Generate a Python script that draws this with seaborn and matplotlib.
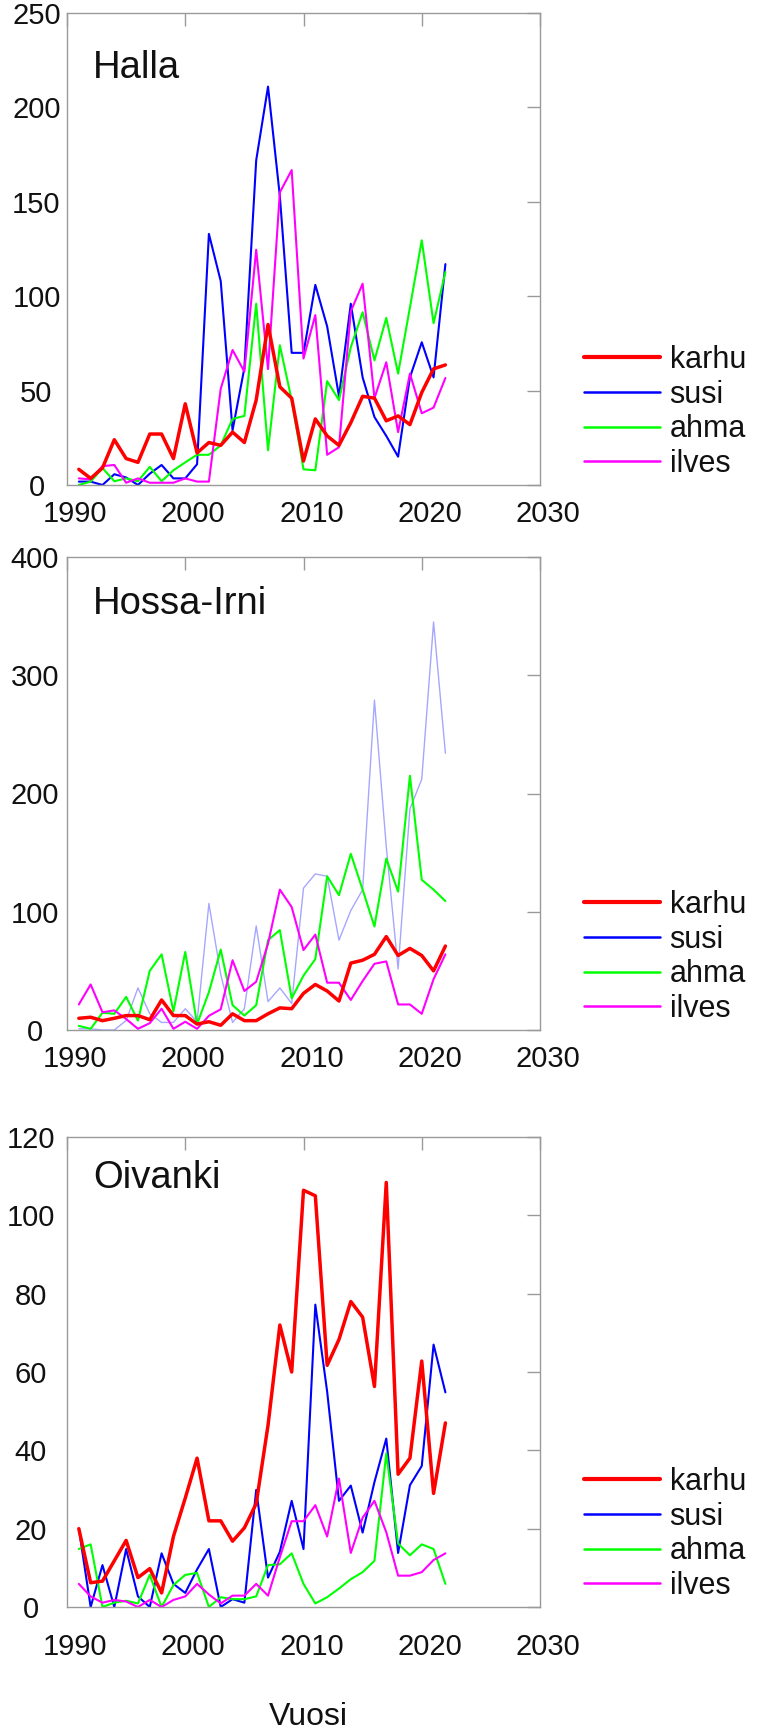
import numpy as np
import pandas as pd
import matplotlib
matplotlib.use("Agg")
import matplotlib.pyplot as plt
import matplotlib.transforms as mtransforms
from matplotlib.lines import Line2D
import seaborn as sns

years = list(range(1991, 2023))
species = ["karhu", "susi", "ahma", "ilves"]
regions = ["Halla", "Hossa-Irni", "Oivanki"]

halla_karhu = [8.3, 3.5, 9, 24, 14, 12, 27, 27, 14, 43, 17, 22.5, 21, 28, 22.5, 45, 85, 52, 46, 12.7,
               35, 26, 21, 33, 47, 46, 34, 36.6, 32, 49, 61.5, 63.6]
halla_susi = [1.8, 1.8, 0, 5.7, 4, 0, 6, 10.6, 3.5, 3.5, 11, 133, 108, 29, 62, 172, 211, 153, 70, 70,
              106, 84, 47, 96, 57, 36, 26, 15, 57, 75.6, 57, 117]
halla_ahma = [0, 1.8, 9, 2, 3.5, 2, 9.6, 2, 7.8, 12, 16, 16, 21, 35, 36.6, 96, 18.4, 74, 45, 8.3,
              7.8, 55, 45, 73, 91.5, 66, 88.5, 59, 94, 129.6, 85.7, 112.8]
halla_ilves = [3.5, 3, 10, 10.6, 1.2, 3.5, 1.2, 1.2, 1.2, 3.5, 1.8, 1.8, 51, 71.5, 60, 124.6, 61.4, 155, 166.8, 67,
               90, 16, 20, 92, 106.6, 46, 65, 28, 59, 38, 41, 56.7]

hossa_karhu = [9.9, 10.8, 7.9, 9.9, 12.2, 12.2, 8.7, 25.4, 12.2, 12.2, 5, 7, 4, 13.7, 7.9, 7.9, 13.7, 18.7, 18, 31,
               38.5, 33, 24.5, 56.6, 59, 64, 79, 63, 69, 63, 50, 71]
hossa_susi = [1, 1, 0, 0, 8, 35.6, 13.7, 6.4, 6.4, 18, 7, 107, 47, 6.4, 18, 88, 24, 35.6, 22.4, 120,
              132, 130, 76, 101, 118.7, 279, 155, 51.6, 187, 212, 345, 234]
hossa_ahma = [3.5, 1, 14.6, 13.7, 28, 8, 50, 64, 15.7, 66, 5, 32, 68, 21, 12.2, 21, 76, 84.5, 26.8, 46,
              60, 130, 114, 149, 118.7, 87.5, 145, 117, 215, 127, 118.7, 109]
hossa_ilves = [21.6, 38.5, 15, 16.6, 9.3, 1, 5.8, 18, 1, 7, 1, 12, 17.5, 59, 33, 40.8, 73, 118.7, 104, 67.6,
               80.7, 40, 40, 25.4, 41.4, 56, 58, 21.6, 21.6, 13.7, 43, 64]

oiv_karhu = [20, 6.2, 6.6, 11.8, 17, 7.5, 9.8, 3.6, 18, 27.8, 38, 22, 22, 16.8, 20.2, 26.4, 46.4, 72, 60, 106.4,
             105, 61.7, 68.3, 78, 74, 56.3, 108.4, 33.9, 38, 62.8, 29, 47]
oiv_susi = [20, 0, 10.7, 0, 14.8, 2.7, 0, 13.7, 5.9, 3.6, 9.6, 14.8, 0, 2, 1.1, 29.9, 7.5, 14.1, 27.1, 14.8,
            77.2, 55, 27.1, 31, 19, 31.9, 43, 13.8, 31.1, 36, 67, 54.8]
oiv_ahma = [14.8, 16, 0, 1.1, 1.6, 0.9, 8.2, 0, 5.6, 8.2, 8.7, 0, 2.5, 2, 2, 2.7, 10.7, 10.9, 13.7, 5.9,
            0.9, 2.5, 4.7, 7.1, 8.9, 11.8, 39.2, 16.2, 13.2, 16, 14.8, 5.9]
oiv_ilves = [5.9, 2.7, 1.1, 1.8, 1.4, 0, 1.8, 0, 1.8, 2.7, 5.9, 3.2, 0.9, 2.9, 2.9, 5.9, 2.9, 12.7, 21.9, 21.9,
             26, 18, 32.8, 13.8, 22.8, 27.1, 19.1, 8, 8, 8.9, 12, 13.7]

x_ticks = [1990, 2000, 2010, 2020, 2030]
y_ticks_halla = [0, 50, 100, 150, 200, 250]
y_ticks_hossa = [0, 100, 200, 300, 400]
y_ticks_oiv = [0, 20, 40, 60, 80, 100, 120]
x_label = "Vuosi"

data = {
    "Halla": [halla_karhu, halla_susi, halla_ahma, halla_ilves],
    "Hossa-Irni": [hossa_karhu, hossa_susi, hossa_ahma, hossa_ilves],
    "Oivanki": [oiv_karhu, oiv_susi, oiv_ahma, oiv_ilves],
}
yticks = {"Halla": y_ticks_halla, "Hossa-Irni": y_ticks_hossa, "Oivanki": y_ticks_oiv}

rows = []
for reg in regions:
    for sp, vals in zip(species, data[reg]):
        for yr, v in zip(years, vals):
            rows.append({"region": reg, "species": sp, "year": yr, "value": v})
df = pd.DataFrame(rows)

sns.set_style("white")
plt.rcParams["font.family"] = ["Liberation Sans", "DejaVu Sans"]

colors = {"karhu": "#FF0000", "susi": "#0000FF", "ahma": "#00FF00", "ilves": "#FF00FF"}
widths = {"karhu": 2.5, "susi": 1.5, "ahma": 1.5, "ilves": 1.5}

W, H = 759, 1735
fig = plt.figure(figsize=(W / 100, H / 100), dpi=100)

# per panel: (top px, bottom px, title baseline frac, ytick pad, xtick pad)
boxes = [(13, 485, 0.862, 22, 10.5), (557, 1030, 0.880, 23, 10.5), (1137, 1607, 0.892, 26, 19)]
left_px, right_px = 67, 540
gray = "#9a9a9a"
txt = "#111111"

order = ["susi", "ahma", "ilves", "karhu"]
for reg, (tp, bp, ty, ypad, xpad) in zip(regions, boxes):
    ax = fig.add_axes([left_px / W, 1 - bp / H, (right_px - left_px) / W, (bp - tp) / H])
    sub = df[df.region == reg]
    for sp in order:
        s = sub[sub.species == sp]
        lw = widths[sp]
        alpha = 1.0
        if reg == "Hossa-Irni" and sp == "susi":
            lw, alpha = 1.0, 0.35
        sns.lineplot(data=s, x="year", y="value", color=colors[sp], linewidth=lw,
                     alpha=alpha, ax=ax, legend=False, estimator=None)
    yt = yticks[reg]
    ax.set_xlim(1990, 2030)
    ax.set_ylim(yt[0], yt[-1])
    ax.set_xticks(x_ticks)
    ax.set_yticks(yt)
    ax.set_xlabel("")
    ax.set_ylabel("")
    ax.tick_params(direction="in", top=True, right=True, length=9.7, width=1.0,
                   color=gray, labelsize=21, labelcolor=txt)
    ax.tick_params(axis="x", pad=xpad)
    ax.tick_params(axis="y", pad=ypad)
    for lab in ax.get_yticklabels():
        lab.set_horizontalalignment("center")
    off = mtransforms.ScaledTranslation(8 / 100, 0, fig.dpi_scale_trans)
    for lab in ax.get_xticklabels():
        lab.set_transform(lab.get_transform() + off)
    for sp_ in ax.spines.values():
        sp_.set_color(gray)
        sp_.set_linewidth(1.0)
    ax.text(0.055, ty, reg, transform=ax.transAxes, fontsize=27.5, va="baseline", ha="left",
            color=txt)
    handles = [Line2D([0], [0], color=colors[s], linewidth=(3.0 if s == "karhu" else 1.8)) for s in species]
    ax.legend(handles, species, loc="lower left", bbox_to_anchor=(1.08, 0.0), frameon=False,
              fontsize=22, handlelength=2.5, handletextpad=0.3, labelspacing=0.15,
              borderpad=0.2, borderaxespad=0, labelcolor=txt)
    if reg == "Oivanki":
        ax.set_xlabel(x_label, fontsize=23, color=txt, va="center")
        ax.xaxis.set_label_coords(0.51, -(1717 - bp) / (bp - tp))

fig.savefig("out.png", dpi=100)
